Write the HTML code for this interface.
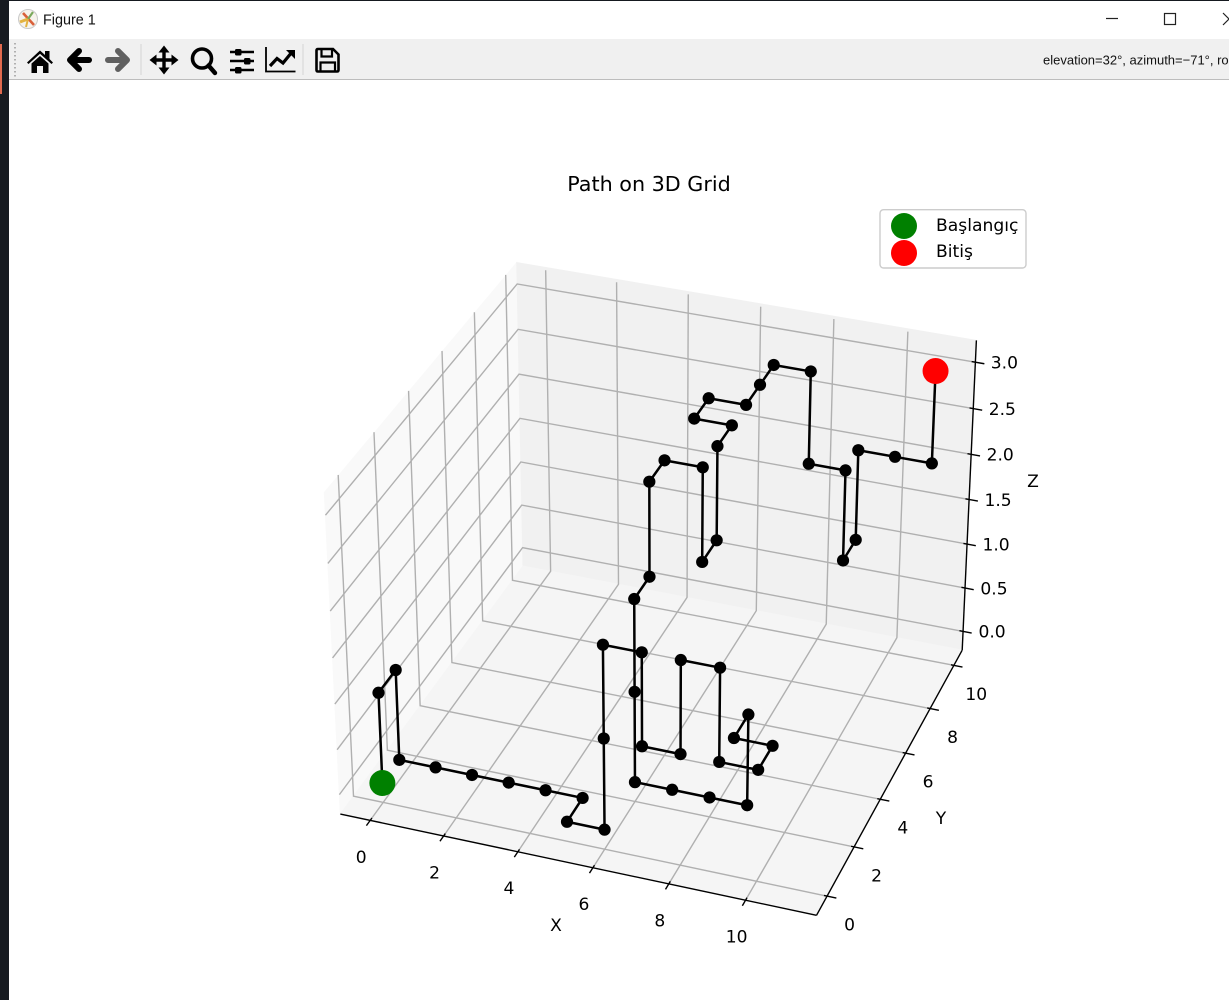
<!DOCTYPE html>
<html lang="tr">
<head>
<meta charset="utf-8">
<title>Figure 1</title>
<style>
html,body{margin:0;padding:0;background:#fff;width:1229px;height:1000px;overflow:hidden}
svg{display:block}
.chart-text{font-family:"DejaVu Sans","Liberation Sans",sans-serif;fill:#000}
.ui-text{font-family:"Liberation Sans",sans-serif;fill:#111}
</style>
</head>
<body>
<svg id="root" xmlns="http://www.w3.org/2000/svg" width="1229" height="1000" viewBox="0 0 1229 1000">
  <rect x="0" y="0" width="1229" height="1000" fill="#ffffff"/>
  <g id="plot"></g>
  <text class="chart-text" x="649" y="184" font-size="20.7" text-anchor="middle" dominant-baseline="central">Path on 3D Grid</text>
  <text class="chart-text" x="556" y="926" font-size="17.1" text-anchor="middle" dominant-baseline="central">X</text>
  <text class="chart-text" x="941" y="819" font-size="17.1" text-anchor="middle" dominant-baseline="central">Y</text>
  <text class="chart-text" x="1033" y="482" font-size="17.1" text-anchor="middle" dominant-baseline="central">Z</text>

  <g>
    <rect x="880" y="209.7" width="146" height="58.3" rx="3.5" fill="#ffffff" fill-opacity="0.85" stroke="#cccccc" stroke-width="1.4"/>
    <circle cx="904" cy="226" r="13" fill="#008000"/>
    <circle cx="904" cy="253" r="13" fill="#ff0000"/>
    <text class="chart-text" x="936" y="226" font-size="17.15" dominant-baseline="central">Başlangıç</text>
    <text class="chart-text" x="936" y="252" font-size="17.15" dominant-baseline="central">Bitiş</text>
  </g>

  <g>
    <rect x="9" y="1" width="1220" height="38" fill="#ffffff"/>
    <g>
      <circle cx="28" cy="19" r="9.5" fill="#f6f3ec" stroke="#c9c9c9" stroke-width="1"/>
      <path d="M23 13 L34 25" stroke="#d9603a" stroke-width="2.6" fill="none"/>
      <path d="M28 19 L20 22" stroke="#e3b341" stroke-width="3" fill="none"/>
      <path d="M28 19 L33 12" stroke="#7aa95c" stroke-width="2.2" fill="none"/>
      <path d="M28 19 L26 27" stroke="#e3b341" stroke-width="2" fill="none"/>
    </g>
    <text class="ui-text" x="43" y="24.5" font-size="14.4">Figure 1</text>
    <path d="M1106 18.5 H1118" stroke="#222" stroke-width="1.2" fill="none"/>
    <rect x="1164.5" y="13.5" width="11" height="11" fill="none" stroke="#222" stroke-width="1.2"/>
    <path d="M1223 13 L1229 19 L1223 25" stroke="#222" stroke-width="1.2" fill="none"/>
  </g>

  <g>
    <rect x="9" y="39" width="1220" height="40" fill="#f0f0f0"/>
    <rect x="9" y="79" width="1220" height="1" fill="#bdbdbd"/>
    <path d="M15 43 V77" stroke="#9a9a9a" stroke-width="1.5" stroke-dasharray="1.5 2.5" fill="none"/>
    <rect x="140.5" y="44" width="1" height="31" fill="#d4d4d4"/>
    <rect x="302.5" y="44" width="1" height="31" fill="#d4d4d4"/>

    <g fill="#000">
      <path d="M27 62.5 L40 50.5 L45 55 V51 H49.5 V59 L53 62.5 L51.5 64 L40 53.8 L28.5 64 Z"/>
      <path d="M31.5 63.5 L40 56 L48.5 63.5 V73 H43 V66 H37 V73 H31.5 Z"/>
    </g>
    <g fill="none" stroke="#000" stroke-width="6" stroke-linecap="round" stroke-linejoin="round">
      <path d="M71 60 H89"/>
      <path d="M79 51 L70 60 L79 69"/>
    </g>
    <g fill="none" stroke="#606060" stroke-width="6" stroke-linecap="round" stroke-linejoin="round">
      <path d="M108 60 H126"/>
      <path d="M118 51 L127 60 L118 69"/>
    </g>
    <g>
      <path d="M164 50 V70 M154 60 H174" stroke="#000" stroke-width="3.4" fill="none"/>
      <path d="M164 45.5 L169.5 52.5 H158.5 Z M164 74.5 L169.5 67.5 H158.5 Z M149.5 60 L156.5 54.5 V65.5 Z M178.5 60 L171.5 54.5 V65.5 Z" fill="#000"/>
    </g>
    <g fill="none" stroke="#000">
      <circle cx="202" cy="58.5" r="9.5" stroke-width="3.6"/>
      <path d="M208.5 65.5 L215 73" stroke-width="4.4" stroke-linecap="round"/>
    </g>
    <g>
      <path d="M230 52 H254 M230 61 H254 M230 70 H254" stroke="#000" stroke-width="2.4" fill="none"/>
      <rect x="235" y="49" width="6.5" height="6.5" rx="1.5" fill="#000"/>
      <rect x="244" y="58" width="6.5" height="6.5" rx="1.5" fill="#000"/>
      <rect x="235" y="67" width="6.5" height="6.5" rx="1.5" fill="#000"/>
    </g>
    <g fill="none" stroke="#000">
      <path d="M266 47 V71.5 H295.5" stroke-width="1.8"/>
      <path d="M270 66 L277 58.5 L283 63 L292 52" stroke-width="3.2"/>
      <path d="M286 50 H295 V59 Z" fill="#000" stroke="none"/>
    </g>
    <g fill="none" stroke="#000">
      <path d="M316.5 50.5 Q316.5 49 318 49 H333 L338.5 54.5 V70 Q338.5 71.5 337 71.5 H318 Q316.5 71.5 316.5 70 Z" stroke-width="2.6"/>
      <path d="M321.5 49.5 V56.5 H332 V49.5" stroke-width="2.2"/>
      <path d="M320.5 71 V62.5 H335 V71" stroke-width="2.2"/>
    </g>
    <text class="ui-text" x="1043" y="64.5" font-size="13">elevation=32°, azimuth=−71°, roll=0°</text>
  </g>

  <g>
    <rect x="0" y="0" width="1229" height="1" fill="#15191f"/>
    <rect x="0" y="0" width="9" height="1000" fill="#171b21"/>
    <rect x="0" y="44" width="2" height="50" fill="#e0694e"/>
  </g>
</svg>

<script>
// Chart data: grid path node coordinates.
const pathX = [0,0,0,0,1,2,3,4,5,5,6,6,6,7,7,8,8,9,9,10,10,9,9,9,8,7,6,6,6,6,6,6,7,7,7,7,7,6,6,7,7,7,8,8,9,9,9,9,10,11,11];
const pathY = [0,0,1,1,1,1,1,1,1,0,0,0,0,0,0,0,0,0,0,0,1,1,2,2,2,2,2,2,2,3,3,4,4,4,5,5,6,6,7,7,8,9,9,9,9,9,10,10,10,10,10];
const pathZ = [0,1,1,0,0,0,0,0,0,0,0,1,2,2,1,1,2,2,1,1,1,1,1,0,0,0,0,1,2,2,3,3,3,2,2,3,3,3,3,3,3,3,3,2,2,1,1,2,2,2,3];
const startPoint = [0,0,0];
const endPoint = [11,10,3];
const xTicks = [0,2,4,6,8,10];
const yTicks = [0,2,4,6,8,10];
const zTicks = [0,0.5,1,1.5,2,2.5,3];
const xTickLabels = ['0','2','4','6','8','10'];
const yTickLabels = ['0','2','4','6','8','10'];
const zTickLabels = ['0.0','0.5','1.0','1.5','2.0','2.5','3.0'];

// Axis functions: a perspective projection like the one matplotlib mplot3d uses.
const xLim = [-0.82, 11.83], yLim = [-0.76, 10.72], zLim = [-0.218, 3.233];
const elevRad = 32 * Math.PI / 180, azimRad = -70.2 * Math.PI / 180;
const boxX = 1.1905, boxY = 1.1905, boxZ = 0.8929, viewDist = 10;
const scaleXPx = 4175, scaleYPx = 4165, centerX = 660.5, centerY = 575.6;
const viewW = [Math.cos(elevRad)*Math.cos(azimRad), Math.cos(elevRad)*Math.sin(azimRad), Math.sin(elevRad)];
const viewU = [-Math.sin(azimRad), Math.cos(azimRad), 0];
const viewV = [
  viewW[1]*viewU[2]-viewW[2]*viewU[1],
  viewW[2]*viewU[0]-viewW[0]*viewU[2],
  viewW[0]*viewU[1]-viewW[1]*viewU[0]
];
function dot(a,b){return a[0]*b[0]+a[1]*b[1]+a[2]*b[2];}
function project(x,y,z){
  const p = [
    ((x-xLim[0])/(xLim[1]-xLim[0])-0.5)*boxX,
    ((y-yLim[0])/(yLim[1]-yLim[0])-0.5)*boxY,
    ((z-zLim[0])/(zLim[1]-zLim[0])-0.5)*boxZ
  ];
  const d = viewDist - dot(viewW,p);
  return [centerX + scaleXPx*dot(viewU,p)/d, centerY - scaleYPx*dot(viewV,p)/d];
}
function pts(list){
  return list.map(function(q){const s=project(q[0],q[1],q[2]);return s[0].toFixed(2)+','+s[1].toFixed(2);}).join(' ');
}
const NS = 'http://www.w3.org/2000/svg';
const plot = document.getElementById('plot');
function make(tag, attrs, parent){
  const el = document.createElementNS(NS, tag);
  for (const k in attrs) el.setAttribute(k, attrs[k]);
  (parent||plot).appendChild(el);
  return el;
}
const X0=xLim[0],X1=xLim[1],Y0=yLim[0],Y1=yLim[1],Z0=zLim[0],Z1=zLim[1];

// Panes
const paneLeft = make('polygon',{points:pts([[X0,Y0,Z0],[X0,Y1,Z0],[X0,Y1,Z1],[X0,Y0,Z1]]),fill:'#f9f9f9',stroke:'#f9f9f9','stroke-width':1});


const paneBack = make('polygon',{points:pts([[X0,Y1,Z0],[X1,Y1,Z0],[X1,Y1,Z1],[X0,Y1,Z1]]),fill:'#f1f1f1',stroke:'#f1f1f1','stroke-width':1});


const paneFloor = make('polygon',{points:pts([[X0,Y0,Z0],[X1,Y0,Z0],[X1,Y1,Z0],[X0,Y1,Z0]]),fill:'#f5f5f5',stroke:'#f5f5f5','stroke-width':1});



// Grid lines
const gridStyle = {fill:'none',stroke:'#b0b0b0','stroke-width':1.4};
xTicks.forEach(function(v){
  const el = make('polyline',Object.assign({points:pts([[v,Y0,Z0],[v,Y1,Z0],[v,Y1,Z1-0.03]])},gridStyle));
  
  
});
yTicks.forEach(function(v){
  const el = make('polyline',Object.assign({points:pts([[X1,v,Z0],[X0,v,Z0],[X0,v,Z1+0.01]])},gridStyle));
  
  
});
zTicks.forEach(function(v){
  const el = make('polyline',Object.assign({points:pts([[X0,Y0,v],[X0,Y1,v],[X1,Y1,v]])},gridStyle));
  
  
});

// Axis lines
const axisStyle = {fill:'none',stroke:'#000','stroke-width':1.4};
const xAxisLine = make('polyline',Object.assign({points:pts([[X0,Y0,Z0],[X1,Y0,Z0]])},axisStyle));


const yAxisLine = make('polyline',Object.assign({points:pts([[X1,Y0,Z0],[X1,Y1,Z0]])},axisStyle));


const zAxisLine = make('polyline',Object.assign({points:pts([[X1,Y1,Z0],[X1,Y1,Z1]])},axisStyle));



// Ticks and tick labels
function label(pos, dx, dy){
  return make('text',{class:'chart-text',x:(pos[0]+dx).toFixed(1),y:(pos[1]+dy).toFixed(1),'font-size':17.1,'text-anchor':'middle','dominant-baseline':'central'});
}
xTicks.forEach(function(v,i){
  const mark = make('polyline',Object.assign({points:pts([[v,Y0-0.22,Z0],[v,Y0+0.1,Z0]])},axisStyle));
  
  
  const t = label(project(v,Y0,Z0), -9, 37.4);
  t.textContent = xTickLabels[i];
  
  
});
yTicks.forEach(function(v,i){
  const mark = make('polyline',Object.assign({points:pts([[X1-0.08,v,Z0],[X1+0.24,v,Z0]])},axisStyle));
  
  
  const t = label(project(X1,v,Z0), 22.5, 29.5);
  t.textContent = yTickLabels[i];
  
  
});
zTicks.forEach(function(v,i){
  const mark = make('polyline',Object.assign({points:pts([[X1-0.1,Y1,v],[X1+0.24,Y1,v]])},axisStyle));
  
  
  const t = label(project(X1,Y1,v), 29, 1.3);
  t.textContent = zTickLabels[i];
  
  
});

// Path line and nodes
const pathNodes = pathX.map(function(x,i){return [x,pathY[i],pathZ[i]];});
const pathLine = make('polyline',{points:pts(pathNodes),fill:'none',stroke:'#000','stroke-width':2.5,'stroke-linejoin':'round'});


pathNodes.forEach(function(n){
  const s = project(n[0],n[1],n[2]);
  const dotEl = make('circle',{cx:s[0].toFixed(2),cy:s[1].toFixed(2),r:6.1,fill:'#000'});
  
  
});

// Start and end markers
const startXY = project(startPoint[0],startPoint[1],startPoint[2]);
const startMarker = make('circle',{cx:startXY[0].toFixed(2),cy:startXY[1].toFixed(2),r:13,fill:'#008000'});


const endXY = project(endPoint[0],endPoint[1],endPoint[2]);
const endMarker = make('circle',{cx:endXY[0].toFixed(2),cy:endXY[1].toFixed(2),r:13,fill:'#ff0000'});


</script>
</body>
</html>
